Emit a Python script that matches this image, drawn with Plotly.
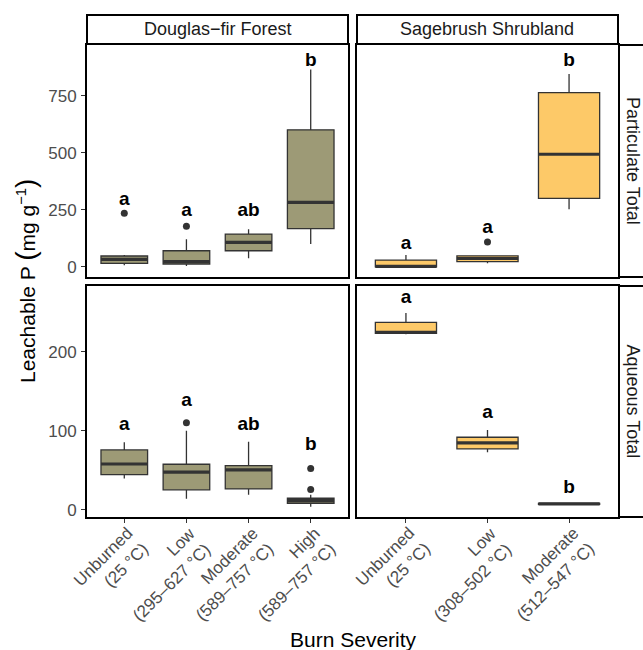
import plotly.graph_objects as go

# ---------------- data ----------------
douglas_labels = ["Unburned<br>(25 °C)", "Low<br>(295–627 °C)",
                  "Moderate<br>(589–757 °C)", "High<br>(589–757 °C)"]
sage_labels = ["Unburned<br>(25 °C)", "Low<br>(308–502 °C)", "Moderate<br>(512–547 °C)"]

# Particulate Total
part_douglas_q1 = [15, 12, 70, 167]
part_douglas_med = [32, 22, 107, 282]
part_douglas_q3 = [47, 70, 143, 600]
part_douglas_lo = [7, 3, 37, 100]
part_douglas_hi = [51, 120, 164, 865]
part_douglas_out_pos = [1, 2]
part_douglas_out_val = [234, 178]
part_douglas_letters = ["a", "a", "ab", "b"]
part_douglas_letter_y = [292, 245, 245, 899]

part_sage_q1 = [0, 22, 300]
part_sage_med = [2, 36, 493]
part_sage_q3 = [29, 48, 763]
part_sage_lo = [0, 15, 252]
part_sage_hi = [51, 48, 845]
part_sage_out_pos = [2]
part_sage_out_val = [108]
part_sage_letters = ["a", "a", "b"]
part_sage_letter_y = [100, 168, 899]

# Aqueous Total
aq_douglas_q1 = [44.6, 25.3, 26.5, 8.4]
aq_douglas_med = [58, 47.6, 50.5, 11.8]
aq_douglas_q3 = [75.8, 57.7, 56, 14.7]
aq_douglas_lo = [39.6, 14, 19, 4]
aq_douglas_hi = [85.5, 100, 86, 19]
aq_douglas_out_pos = [2, 4, 4]
aq_douglas_out_val = [110, 52.2, 25.7]
aq_douglas_letters = ["a", "a", "ab", "b"]
aq_douglas_letter_y = [107, 137, 107, 82]

aq_sage_q1 = [223, 77, 7.0]
aq_sage_med = [224.5, 84.6, 7.6]
aq_sage_q3 = [237, 91.8, 8.2]
aq_sage_lo = [222, 73, 6.8]
aq_sage_hi = [249, 101, 8.5]
aq_sage_out_pos = []
aq_sage_out_val = []
aq_sage_letters = ["a", "a", "b"]
aq_sage_letter_y = [267, 122, 27]

# ---------------- style ----------------
W, H = 643, 650
FONT = "Liberation Sans, Arial, Helvetica, sans-serif"
OLIVE = "#9D9A76"
GOLD = "#FDC968"
EDGE = "#333333"
BOXW = 0.75

fig = go.Figure()


def add_panel(xa, ya, labels, q1, med, q3, lo, hi, out_pos, out_val, letters, letter_y, fill):
    pos = list(range(1, len(labels) + 1))
    fig.add_trace(go.Box(
        x=pos, q1=q1, median=med, q3=q3, lowerfence=lo, upperfence=hi,
        width=BOXW, whiskerwidth=0, fillcolor=fill,
        line=dict(color=EDGE, width=1.3), boxpoints=False,
        xaxis=xa, yaxis=ya, showlegend=False, hoverinfo="skip"))
    # thicker median line (ggplot style)
    mx, my = [], []
    for p, m in zip(pos, med):
        mx += [p - BOXW / 2, p + BOXW / 2, None]
        my += [m, m, None]
    fig.add_trace(go.Scatter(x=mx, y=my, mode="lines",
                             line=dict(color=EDGE, width=3.2),
                             xaxis=xa, yaxis=ya, showlegend=False, hoverinfo="skip"))
    if out_pos:
        fig.add_trace(go.Scatter(x=out_pos, y=out_val, mode="markers",
                                 marker=dict(color=EDGE, size=7),
                                 xaxis=xa, yaxis=ya, showlegend=False, hoverinfo="skip"))
    fig.add_trace(go.Scatter(x=pos, y=letter_y, mode="text",
                             text=["<b>%s</b>" % t for t in letters],
                             textfont=dict(family=FONT, size=19, color="black"),
                             xaxis=xa, yaxis=ya, showlegend=False, hoverinfo="skip"))


add_panel("x", "y", douglas_labels, part_douglas_q1, part_douglas_med, part_douglas_q3,
          part_douglas_lo, part_douglas_hi, part_douglas_out_pos, part_douglas_out_val,
          part_douglas_letters, part_douglas_letter_y, OLIVE)
add_panel("x2", "y2", sage_labels, part_sage_q1, part_sage_med, part_sage_q3,
          part_sage_lo, part_sage_hi, part_sage_out_pos, part_sage_out_val,
          part_sage_letters, part_sage_letter_y, GOLD)
add_panel("x3", "y3", douglas_labels, aq_douglas_q1, aq_douglas_med, aq_douglas_q3,
          aq_douglas_lo, aq_douglas_hi, aq_douglas_out_pos, aq_douglas_out_val,
          aq_douglas_letters, aq_douglas_letter_y, OLIVE)
add_panel("x4", "y4", sage_labels, aq_sage_q1, aq_sage_med, aq_sage_q3,
          aq_sage_lo, aq_sage_hi, aq_sage_out_pos, aq_sage_out_val,
          aq_sage_letters, aq_sage_letter_y, GOLD)


# window pixel -> paper fraction
def px(x):
    return x / W


def py(y):
    return 1 - y / H


LX = [px(87), px(348)]
RX = [px(357), px(618)]
TY = [py(277), py(45)]
BY = [py(517), py(286)]

tickfont = dict(family=FONT, size=17, color="#4D4D4D")
common = dict(showline=True, mirror=True, linecolor="black", linewidth=2, automargin=False,
              showgrid=False, zeroline=False, tickcolor=EDGE, ticklen=4, tickwidth=1.2,
              tickfont=tickfont)

fig.update_layout(
    width=W, height=H, margin=dict(l=0, r=0, t=0, b=0, autoexpand=False),
    paper_bgcolor="white", plot_bgcolor="white", showlegend=False,
    font=dict(family=FONT),
    xaxis=dict(domain=LX, anchor="y", range=[0.4, 4.6], showticklabels=False, ticks="", **common),
    xaxis2=dict(domain=RX, anchor="y2", range=[0.4, 3.6], showticklabels=False, ticks="", **common),
    xaxis3=dict(domain=LX, anchor="y3", range=[0.4, 4.6], tickvals=[1, 2, 3, 4],
                showticklabels=False, ticks="outside", **common),
    xaxis4=dict(domain=RX, anchor="y4", range=[0.4, 3.6], tickvals=[1, 2, 3],
                showticklabels=False, ticks="outside", **common),
    yaxis=dict(domain=TY, anchor="x", range=[-45, 972], tickvals=[0, 250, 500, 750],
               ticks="outside", ticklabelstandoff=1, **common),
    yaxis2=dict(domain=TY, anchor="x2", range=[-45, 972], showticklabels=False, ticks="", **common),
    yaxis3=dict(domain=BY, anchor="x3", range=[-9, 283], tickvals=[0, 100, 200],
                ticks="outside", ticklabelstandoff=1, **common),
    yaxis4=dict(domain=BY, anchor="x4", range=[-9, 283], showticklabels=False, ticks="", **common),
)

# strips
strip_line = dict(color="black", width=2)
shapes = [
    dict(type="rect", xref="paper", yref="paper", x0=LX[0], x1=LX[1], y0=py(44), y1=py(15),
         line=strip_line, fillcolor="white", layer="below"),
    dict(type="rect", xref="paper", yref="paper", x0=RX[0], x1=RX[1], y0=py(44), y1=py(15),
         line=strip_line, fillcolor="white", layer="below"),
    dict(type="rect", xref="paper", yref="paper", x0=px(619), x1=px(650), y0=TY[0], y1=TY[1],
         line=strip_line, fillcolor="white", layer="below"),
    dict(type="rect", xref="paper", yref="paper", x0=px(619), x1=px(650), y0=BY[0], y1=BY[1],
         line=strip_line, fillcolor="white", layer="below"),
]
fig.update_layout(shapes=shapes)

strip_font = dict(family=FONT, size=18, color="#1A1A1A")
ytitle = ("Leachable P <span style='font-size:28px'>(</span>mg g<sup>−1</sup>"
          "<span style='font-size:28px'>)</span>")
ann = [
    dict(text="Douglas−fir Forest", x=(LX[0] + LX[1]) / 2, y=py(29.5), font=strip_font),
    dict(text="Sagebrush Shrubland", x=(RX[0] + RX[1]) / 2, y=py(29.5), font=strip_font),
    dict(text="Particulate Total", x=px(633), y=(TY[0] + TY[1]) / 2, textangle=90, font=strip_font),
    dict(text="Aqueous Total", x=px(633), y=(BY[0] + BY[1]) / 2, textangle=90, font=strip_font),
    dict(text=ytitle, x=px(25), y=py(281), textangle=-90,
         font=dict(family=FONT, size=21, color="black")),
    dict(text="Burn Severity", x=px(353), y=py(639),
         font=dict(family=FONT, size=21, color="black")),
]
for a in ann:
    a.update(xref="paper", yref="paper", showarrow=False, xanchor="center", yanchor="middle")

# rotated, right-aligned x tick labels (ggplot style)
for xa, labels in (("x3", douglas_labels), ("x4", sage_labels)):
    for i, lab in enumerate(labels):
        ann.append(dict(text=lab, xref=xa, yref="paper", x=i + 1, y=py(521),
                        xanchor="right", yanchor="top", textangle=-45, align="right",
                        xshift=31, showarrow=False, font=tickfont))
fig.update_layout(annotations=ann)

fig.write_html("out.html", config={"displayModeBar": False}, post_script=(
    "document.body.style.margin='0';"
    "document.body.style.overflow='hidden';"
    "document.documentElement.style.overflow='hidden';"))
